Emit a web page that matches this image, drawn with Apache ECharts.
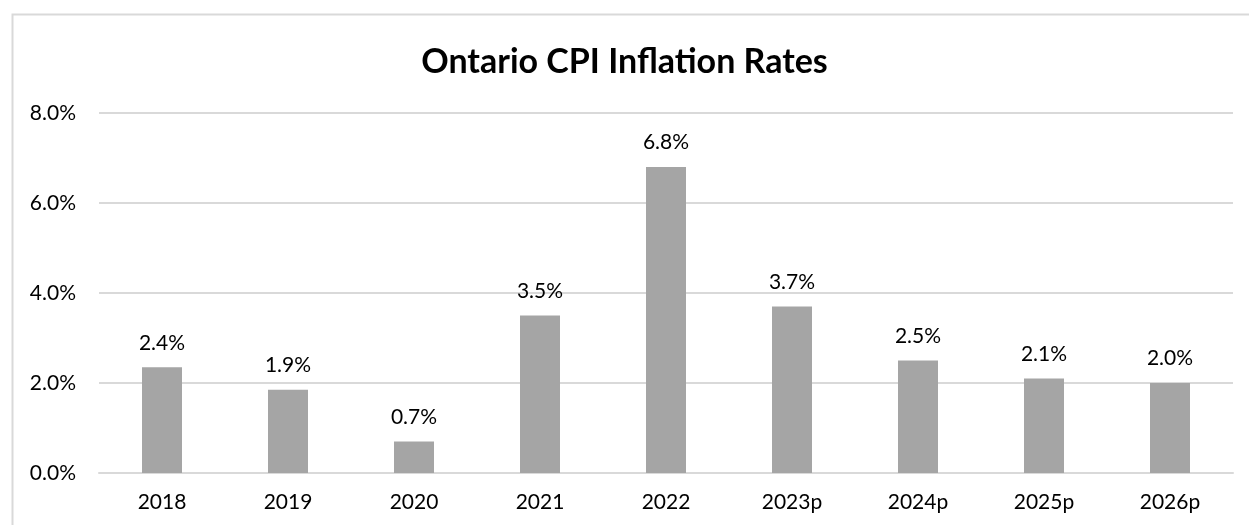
<!DOCTYPE html>
<html>
<head>
<meta charset="utf-8">
<script src="https://cdn.jsdelivr.net/npm/echarts@6/dist/echarts.min.js"></script>
<style>
  html, body { margin: 0; padding: 0; background: #fff; }
  #chart { width: 1249px; height: 525px; }
</style>
</head>
<body>
<div id="chart"></div>
<script>
var years = ['2018', '2019', '2020', '2021', '2022', '2023p', '2024p', '2025p', '2026p'];
var cpi = [2.35, 1.85, 0.7, 3.5, 6.8, 3.7, 2.5, 2.1, 2.0];
var yTicks = [0, 2, 4, 6, 8];

var font = 'Lato, "Open Sans", sans-serif';
var chart = echarts.init(document.getElementById('chart'));

chart.setOption({
  animation: false,
  graphic: [{
    type: 'rect',
    shape: { x: 12.5, y: 14.5, width: 1250, height: 520 },
    style: { fill: 'none', stroke: '#d9d9d9', lineWidth: 2 }
  }],
  title: {
    text: 'Ontario CPI Inflation Rates',
    left: 'center',
    top: 40,
    textStyle: { fontFamily: font, fontSize: 34, fontWeight: 'bold', color: '#000' }
  },
  grid: { left: 99, right: 16, top: 113, bottom: 52 },
  xAxis: {
    type: 'category',
    data: years,
    axisTick: { show: false },
    axisLine: { lineStyle: { color: '#d9d9d9', width: 2 } },
    axisLabel: { color: '#000', fontFamily: font, fontSize: 21, margin: 19 }
  },
  yAxis: {
    type: 'value',
    min: yTicks[0],
    max: yTicks[yTicks.length - 1],
    interval: 2,
    splitLine: { lineStyle: { color: '#d9d9d9', width: 2 } },
    axisLabel: {
      color: '#000', fontFamily: font, fontSize: 21, margin: 23,
      formatter: function (v) { return v.toFixed(1) + '%'; }
    }
  },
  series: [{
    type: 'bar',
    data: cpi,
    barWidth: 40,
    itemStyle: { color: '#a5a5a5' },
    label: {
      show: true,
      position: 'top',
      distance: 14,
      color: '#000',
      fontFamily: font,
      fontSize: 21,
      formatter: function (p) { return p.value.toFixed(1) + '%'; }
    }
  }]
});

window.addEventListener('resize', function () {
  chart.resize();
});
</script>
</body>
</html>
